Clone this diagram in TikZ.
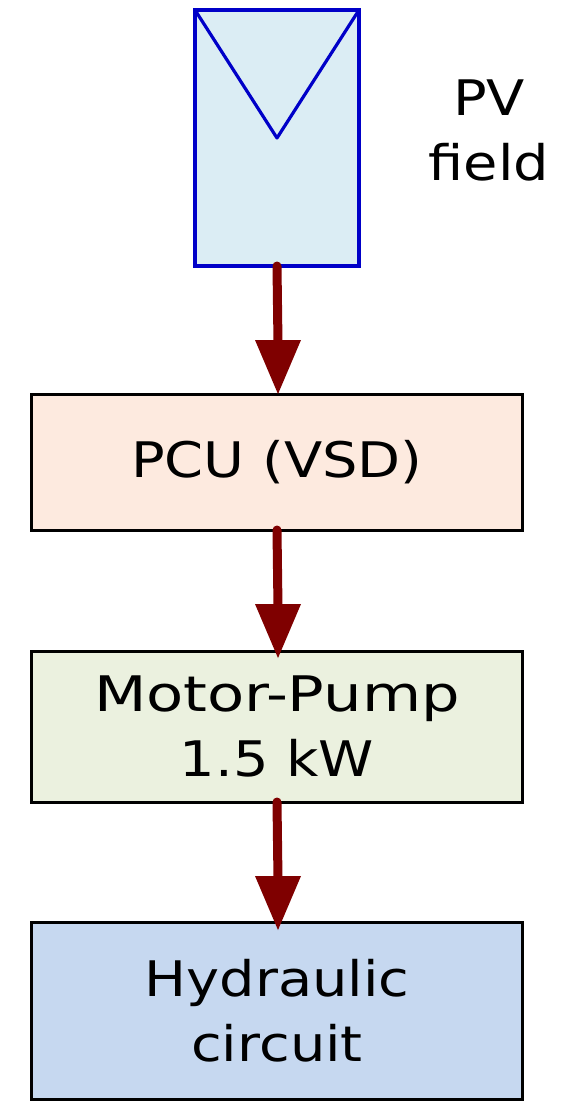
\documentclass[tikz,border=0pt]{standalone}
\usepackage{fontspec}
\setmainfont[FakeStretch=1.14]{DejaVu Sans}
\newfontfamily\widefont[FakeStretch=1.24]{DejaVu Sans}
\begin{document}
\begin{tikzpicture}[x=1pt,y=-1pt,
  blockbox/.style={draw=black,line width=3pt,inner sep=0pt,outer sep=0pt,anchor=north west,align=center,font=\fontsize{49}{65}\selectfont},
  flow/.style={draw=arrowred,line width=9pt,line cap=round}]
\definecolor{arrowred}{HTML}{7F0000}
\useasboundingbox (0,0) rectangle (561,1101);
\definecolor{pvfill}{HTML}{DBEDF4}
\definecolor{pcufill}{HTML}{FDEADF}
\definecolor{mpfill}{HTML}{EBF1DF}
\definecolor{hcfill}{HTML}{C6D8F0}
\definecolor{pvline}{HTML}{0000C8}
\node[draw=pvline,fill=pvfill,line width=3.5pt,minimum width=164pt,minimum height=256pt,inner sep=0pt,outer sep=0pt,anchor=north west] (pv) at (195,10) {};
\coordinate (vtip) at (277,138);
\draw[draw=pvline,line width=3.2pt,line join=round] (pv.north west) -- (vtip) -- (pv.north east);
\node[align=center,font=\fontsize{49}{65}\selectfont] (lab) at (489,130) {PV\\field};
\node[blockbox,fill=pcufill,minimum width=491pt,minimum height=136pt] (pcu) at (31.5,394) {\raisebox{-1pt}{PCU (VSD)}};
\node[blockbox,fill=mpfill,minimum width=491pt,minimum height=151pt] (mp) at (31.5,651) {{\widefont Motor-Pump}\\1.5 kW};
\node[blockbox,fill=hcfill,minimum width=491pt,minimum height=177pt] (hc) at (31.5,922) {Hydraulic\\circuit};
\foreach \a/\b/\d in {pv/pcu/0pt,pcu/mp/7pt,mp/hc/8pt}{
  \draw[flow] (\a.south) -- ([xshift=1pt,yshift=50pt-\d]\b.north);
  \fill[arrowred] ([xshift=-22pt,yshift=54pt-\d]\b.north) -- ([xshift=24pt,yshift=54pt-\d]\b.north) -- ([xshift=1pt,yshift=-\d]\b.north) -- cycle;
}
\end{tikzpicture}
\end{document}
